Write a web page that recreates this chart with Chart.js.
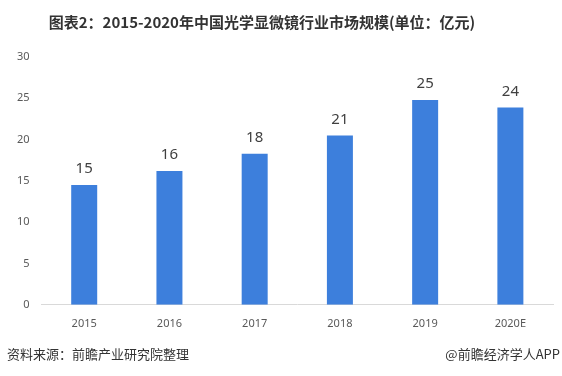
<!DOCTYPE html>
<html>
<head>
<meta charset="utf-8">
<script src="https://cdn.jsdelivr.net/npm/chart.js@4"></script>
<style>
  html, body { margin: 0; padding: 0; background: #fff; }
  #wrap { width: 562px; height: 376px; position: relative; }
</style>
</head>
<body>
<div id="wrap"><canvas id="marketSize"></canvas></div>
<script>
// 中国光学显微镜行业市场规模 (亿元)
var years = ["2015", "2016", "2017", "2018", "2019", "2020E"];
var marketSize = [14.5, 16.2, 18.3, 20.5, 24.8, 23.9];
var valueLabels = ["15", "16", "18", "21", "25", "24"];
var yTicks = [0, 5, 10, 15, 20, 25, 30];

var titleText = "图表2：2015-2020年中国光学显微镜行业市场规模(单位：亿元)";
var sourceText = "资料来源：前瞻产业研究院整理";
var brandText = "@前瞻经济学人APP";

var cjk = "'Noto Sans CJK SC', 'Noto Sans', sans-serif";

// value labels above bars + title / footer text
var textPlugin = {
  id: "textPlugin",
  afterDatasetsDraw: function (chart) {
    var c = chart.ctx;
    var meta = chart.getDatasetMeta(0);
    c.save();
    c.fillStyle = "#404040";
    c.font = "15px 'Noto Sans', sans-serif";
    c.textAlign = "center";
    c.textBaseline = "middle";
    meta.data.forEach(function (bar, i) {
      c.fillText(valueLabels[i], bar.x, bar.y - 16);
    });
    c.restore();
  },
  afterDraw: function (chart) {
    var c = chart.ctx;
    c.save();
    c.textBaseline = "middle";
    c.fillStyle = "#333333";
    c.font = "bold 15px " + cjk;
    c.textAlign = "center";
    c.fillText(titleText, 262, 22);
    c.font = "13px " + cjk;
    c.fillStyle = "#333333";
    c.textAlign = "left";
    c.fillText(sourceText, 7, 354);
    c.textAlign = "right";
    c.fillText(brandText, 560, 354);
    c.restore();
  }
};

var ctx = document.getElementById("marketSize");

new Chart(ctx, {
  type: "bar",
  data: {
    labels: years,
    datasets: [
      {
        label: "市场规模",
        data: marketSize,
        backgroundColor: "#3d7fdc",
        barPercentage: 0.305,
        categoryPercentage: 1.0
      }
    ]
  },
  options: {
    responsive: true,
    maintainAspectRatio: false,
    animation: false,
    layout: {
      padding: { top: 57, left: 5, right: 9, bottom: 34 }
    },
    plugins: {
      legend: { display: false },
      tooltip: { enabled: false }
    },
    scales: {
      x: {
        grid: { display: false, drawTicks: false },
        border: { color: "#d9d9d9", width: 1 },
        ticks: {
          color: "#595959",
          font: { size: 11, family: "'Noto Sans', sans-serif" },
          padding: 12
        }
      },
      y: {
        min: 0,
        max: 30,
        afterBuildTicks: function (axis) {
          axis.ticks = yTicks.map(function (v) { return { value: v }; });
        },
        grid: { display: false, drawTicks: false },
        border: { display: false },
        ticks: {
          color: "#595959",
          font: { size: 11, family: "'Noto Sans', sans-serif" },
          padding: 12
        }
      }
    }
  },
  plugins: [textPlugin]
});
</script>
</body>
</html>
